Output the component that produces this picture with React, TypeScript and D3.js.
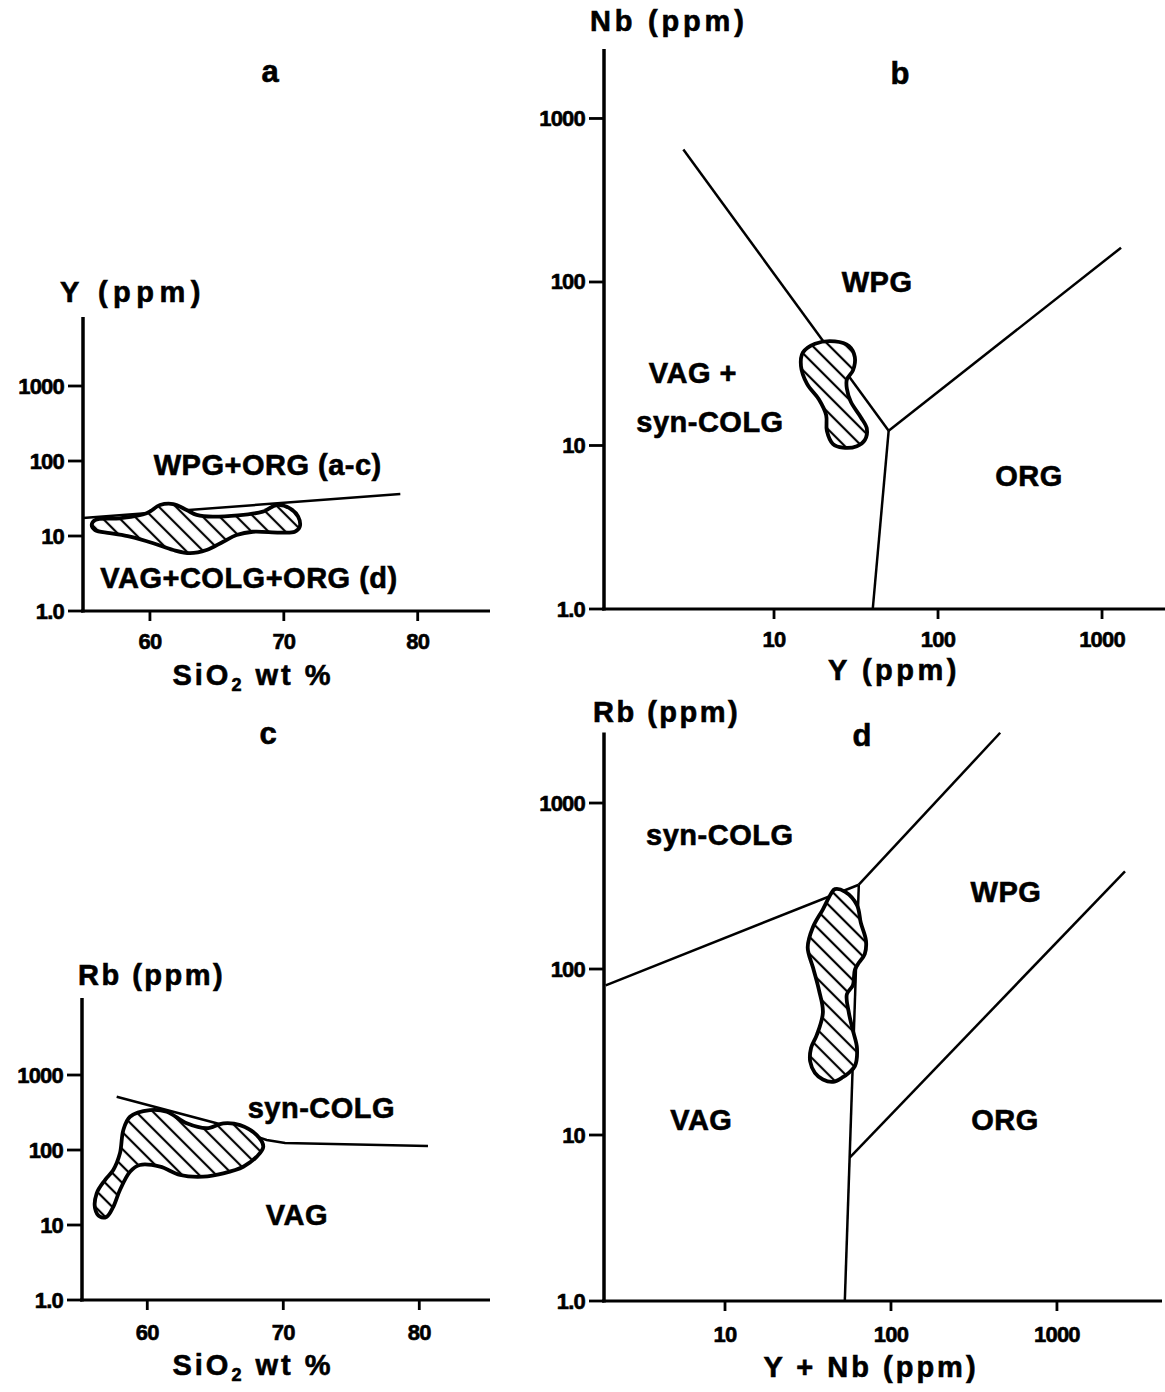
import * as d3 from 'd3'

const FONT = "'Liberation Sans', Arial, sans-serif"

// shared axis ticks
const LOG_TICKS = [1, 10, 100, 1000]
const LOG_LABELS = ['1.0', '10', '100', '1000']
const SIO2_TICKS = [60, 70, 80]
const PPM_TICKS = [10, 100, 1000]

// a: Y (ppm) vs SiO2
const aBoundary: [number, number][] = [[55, 17.4], [78.7, 36.3]]
const aField: [number, number][] = [
  [55.65, 14.0], [55.9, 16.3], [57.76, 17.2], [59.75, 20.1], [60.75, 25.9], [61.74, 26.7],
  [62.74, 22.2], [63.49, 19.1], [64.7, 18.1], [68.43, 21.1], [69.46, 25.9], [70.45, 23.4],
  [71.07, 18.1], [71.19, 13.3], [70.82, 11.4], [69.7, 11.1], [67.69, 11.4], [66.47, 10.3],
  [65.47, 8.4], [64.23, 6.5], [62.99, 5.9], [61.74, 6.5], [60.25, 8.0], [58.51, 9.8],
  [57.01, 10.9], [55.9, 12.0],
]
const aLabels = [
  { text: 'WPG+ORG (a-c)', x: 68.8, y: 88 },
  { text: 'VAG+COLG+ORG (d)', x: 67.4, y: 2.75 },
]

// c: Rb (ppm) vs SiO2
const cBoundary: [number, number][] = [[57.75, 514], [65.1, 227], [68.78, 136], [70.13, 124], [80.64, 113]]
const cField: [number, number][] = [
  [58.24, 185], [58.73, 278], [60.2, 341], [61.43, 324], [62.9, 227], [64.37, 195],
  [65.59, 227], [66.82, 215], [68.05, 158], [68.53, 111], [68.05, 81.5], [67.06, 59.9],
  [65.59, 48.9], [64.12, 44.1], [62.41, 46.4], [60.94, 59.9], [59.46, 63.1], [58.73, 51.4],
  [57.99, 29.3], [57.5, 17.5], [57.02, 12.9], [56.52, 12.9], [56.16, 16.7], [56.28, 26.5],
  [56.89, 39.8], [57.5, 54.1], [57.99, 90.3],
]
const cLabels = [
  { text: 'syn-COLG', x: 72.8, y: 363 },
  { text: 'VAG', x: 71.0, y: 13.6 },
]

// b: Nb (ppm) vs Y (ppm)
const bLines: [number, number][][] = [
  [[2.8, 646], [50, 12.3]],
  [[50, 12.3], [1306, 162]],
  [[50, 12.3], [40, 1]],
]
const bField: [number, number][] = [
  [14.6, 30.6], [15.0, 37.0], [17.8, 41.9], [23.5, 43.3], [28.6, 40.6], [31.1, 34.7],
  [30.3, 28.8], [27.8, 25.3], [27.8, 22.3], [29.4, 18.5], [33.8, 14.9], [36.8, 12.7],
  [35.8, 10.8], [32.0, 9.9], [26.3, 9.7], [22.9, 10.2], [21.0, 12.3], [20.8, 15.3],
  [18.8, 19.1], [15.9, 23.8],
]
const bLabels = [
  { text: 'WPG', x: 42.5, y: 100 },
  { text: 'VAG +', x: 3.2, y: 27.8 },
  { text: 'syn-COLG', x: 4.07, y: 13.9 },
  { text: 'ORG', x: 359, y: 6.5 },
]

// d: Rb (ppm) vs Y + Nb (ppm)
const dLines: [number, number][][] = [
  [[1.91, 79.7], [64, 322]],
  [[64, 322], [455, 2650]],
  [[64, 322], [52.7, 1]],
  [[56.4, 7.3], [2570, 388]],
]
const dField: [number, number][] = [
  [45.9, 303], [52.7, 293], [62.4, 243], [65.8, 190], [70.7, 148], [69.5, 123],
  [64.0, 109], [60.6, 98.9], [58.9, 79.7], [54.2, 70.3], [55.7, 54.8], [58.9, 42.8],
  [62.4, 33.4], [60.6, 26.0], [55.7, 23.7], [51.3, 22.3], [44.7, 20.9], [38.9, 21.6],
  [34.8, 23.7], [32.6, 27.7], [33.0, 33.4], [35.8, 40.2], [38.9, 54.8], [36.8, 74.8],
  [33.9, 102], [31.5, 135], [33.9, 179], [38.9, 229], [43.5, 284],
]
const dLabels = [
  { text: 'syn-COLG', x: 9.3, y: 641 },
  { text: 'WPG', x: 493, y: 291 },
  { text: 'VAG', x: 7.2, y: 12.3 },
  { text: 'ORG', x: 486, y: 12.3 },
]

type Scale = (v: number) => number

interface PanelProps {
  id: string
  x: Scale
  y: Scale
  xRange: [number, number]
  yRange: [number, number]
  xTicks: number[]
  xTickLabels: string[]
  xTickDy: number
  lines: [number, number][][]
  field: [number, number][]
  labels: { text: string; x: number; y: number }[]
  letter: { text: string; x: number; y: number }
  yTitle: { text: string; x: number; y: number; ls: number }
  xTitle: { x: number; y: number; ls: number; sio2?: boolean; text?: string }
}

// bold text with a slight stroke to mimic the heavy lettering of the scan
const heavy = { stroke: '#000', strokeWidth: 0.6 }

function Panel(p: PanelProps) {
  const [x0, x1] = p.xRange
  const [y0, y1] = p.yRange
  const line = d3.line<[number, number]>().x((d) => p.x(d[0])).y((d) => p.y(d[1]))
  const fieldPath = d3
    .line<[number, number]>()
    .x((d) => p.x(d[0]))
    .y((d) => p.y(d[1]))
    .curve(d3.curveCatmullRomClosed.alpha(0.5))(p.field)

  return (
    <g fontFamily={FONT} fontWeight="bold" fill="#000">
      {/* boundaries */}
      {p.lines.map((l, i) => (
        <path key={i} d={line(l) ?? ''} fill="none" stroke="#000" strokeWidth={2.5} />
      ))}

      {/* hatched field */}
      <path d={fieldPath ?? ''} fill={`url(#hatch-${p.id})`} stroke="#000" strokeWidth={3.8} strokeLinejoin="round" />

      {/* axes */}
      <line x1={x0} x2={x0} y1={y0 + 1.5} y2={y1} stroke="#000" strokeWidth={3.5} />
      <line x1={x0 - 2} x2={x1} y1={y0} y2={y0} stroke="#000" strokeWidth={3.2} />
      {LOG_TICKS.map((t, i) => (
        <g key={t}>
          <line x1={x0 - 15} x2={x0} y1={p.y(t)} y2={p.y(t)} stroke="#000" strokeWidth={2.8} />
          <text
            x={x0 - 19}
            y={p.y(t)}
            textAnchor="end"
            dominantBaseline="central"
            fontSize={22}
            letterSpacing={-0.8}
            {...heavy}
          >
            {LOG_LABELS[i]}
          </text>
        </g>
      ))}
      {p.xTicks.map((t, i) => (
        <g key={t}>
          <line x1={p.x(t)} x2={p.x(t)} y1={y0} y2={y0 + 10} stroke="#000" strokeWidth={2.8} />
          <text
            x={p.x(t)}
            y={y0 + p.xTickDy}
            textAnchor="middle"
            dominantBaseline="central"
            fontSize={22}
            letterSpacing={-0.8}
            {...heavy}
          >
            {p.xTickLabels[i]}
          </text>
        </g>
      ))}

      {/* field names */}
      {p.labels.map((l) => (
        <text
          key={l.text}
          x={p.x(l.x)}
          y={p.y(l.y)}
          textAnchor="middle"
          dominantBaseline="central"
          fontSize={29}
          letterSpacing={0.5}
          {...heavy}
        >
          {l.text}
        </text>
      ))}

      {/* titles */}
      <text x={p.letter.x} y={p.letter.y} textAnchor="middle" fontSize={31} {...heavy}>
        {p.letter.text}
      </text>
      <text x={p.yTitle.x} y={p.yTitle.y} fontSize={29} letterSpacing={p.yTitle.ls} {...heavy}>
        {p.yTitle.text}
      </text>
      {p.xTitle.sio2 ? (
        <text x={p.xTitle.x} y={p.xTitle.y} textAnchor="middle" fontSize={29} letterSpacing={p.xTitle.ls} {...heavy}>
          SiO<tspan fontSize={18} dy={6}>2</tspan>
          <tspan dy={-6}> wt %</tspan>
        </text>
      ) : (
        <text x={p.xTitle.x} y={p.xTitle.y} textAnchor="middle" fontSize={29} letterSpacing={p.xTitle.ls} {...heavy}>
          {p.xTitle.text}
        </text>
      )}
    </g>
  )
}

export default function App() {
  const ax = d3.scaleLinear().domain([55, 85.4]).range([83, 490])
  const ay = d3.scaleLog().domain([1, 8318]).range([611, 317])
  const cx = d3.scaleLinear().domain([55.2, 85.2]).range([82, 490])
  const cy = d3.scaleLog().domain([1, 10640]).range([1300, 998])
  const bx = d3.scaleLog().domain([0.919, 2421]).range([604, 1165])
  const by = d3.scaleLog().domain([1, 2660]).range([609, 49])
  const dx = d3.scaleLog().domain([1.866, 4295]).range([604, 1162])
  const dy = d3.scaleLog().domain([1, 2660]).range([1301, 732.5])

  return (
    <svg
      width={1165}
      height={1392}
      viewBox="0 0 1165 1392"
      style={{ position: 'absolute', left: 0, top: 0, display: 'block', background: '#fff' }}
    >
      <defs>
        {['a', 'b', 'c', 'd'].map((k) => (
          <pattern
            key={k}
            id={`hatch-${k}`}
            patternUnits="userSpaceOnUse"
            width={12}
            height={12}
            patternTransform="rotate(45)"
          >
            <rect width={12} height={12} fill="#fff" />
            <line x1={0} x2={12} y1={6} y2={6} stroke="#000" strokeWidth={2.2} />
          </pattern>
        ))}
      </defs>
      <rect width={1165} height={1392} fill="#fff" />

      <Panel
        id="a"
        x={ax}
        y={ay}
        xRange={[83, 490]}
        yRange={[611, 317]}
        xTicks={SIO2_TICKS}
        xTickLabels={SIO2_TICKS.map(String)}
        xTickDy={30}
        lines={[aBoundary]}
        field={aField}
        labels={aLabels}
        letter={{ text: 'a', x: 270, y: 82 }}
        yTitle={{ text: 'Y (ppm)', x: 60, y: 302, ls: 5.5 }}
        xTitle={{ x: 253, y: 685, ls: 3, sio2: true }}
      />
      <Panel
        id="c"
        x={cx}
        y={cy}
        xRange={[82, 490]}
        yRange={[1300, 998]}
        xTicks={SIO2_TICKS}
        xTickLabels={SIO2_TICKS.map(String)}
        xTickDy={32}
        lines={[cBoundary]}
        field={cField}
        labels={cLabels}
        letter={{ text: 'c', x: 268, y: 744 }}
        yTitle={{ text: 'Rb (ppm)', x: 78, y: 985, ls: 2.5 }}
        xTitle={{ x: 253, y: 1375, ls: 3, sio2: true }}
      />
      <Panel
        id="b"
        x={bx}
        y={by}
        xRange={[604, 1165]}
        yRange={[609, 49]}
        xTicks={PPM_TICKS}
        xTickLabels={PPM_TICKS.map(String)}
        xTickDy={30}
        lines={bLines}
        field={bField}
        labels={bLabels}
        letter={{ text: 'b', x: 900, y: 84 }}
        yTitle={{ text: 'Nb (ppm)', x: 590, y: 31, ls: 3.8 }}
        xTitle={{ x: 894, y: 680, ls: 3.5, text: 'Y (ppm)' }}
      />
      <Panel
        id="d"
        x={dx}
        y={dy}
        xRange={[604, 1162]}
        yRange={[1301, 732.5]}
        xTicks={PPM_TICKS}
        xTickLabels={PPM_TICKS.map(String)}
        xTickDy={33}
        lines={dLines}
        field={dField}
        labels={dLabels}
        letter={{ text: 'd', x: 862, y: 746 }}
        yTitle={{ text: 'Rb (ppm)', x: 593, y: 722, ls: 2.5 }}
        xTitle={{ x: 871, y: 1377, ls: 3, text: 'Y + Nb (ppm)' }}
      />
    </svg>
  )
}
